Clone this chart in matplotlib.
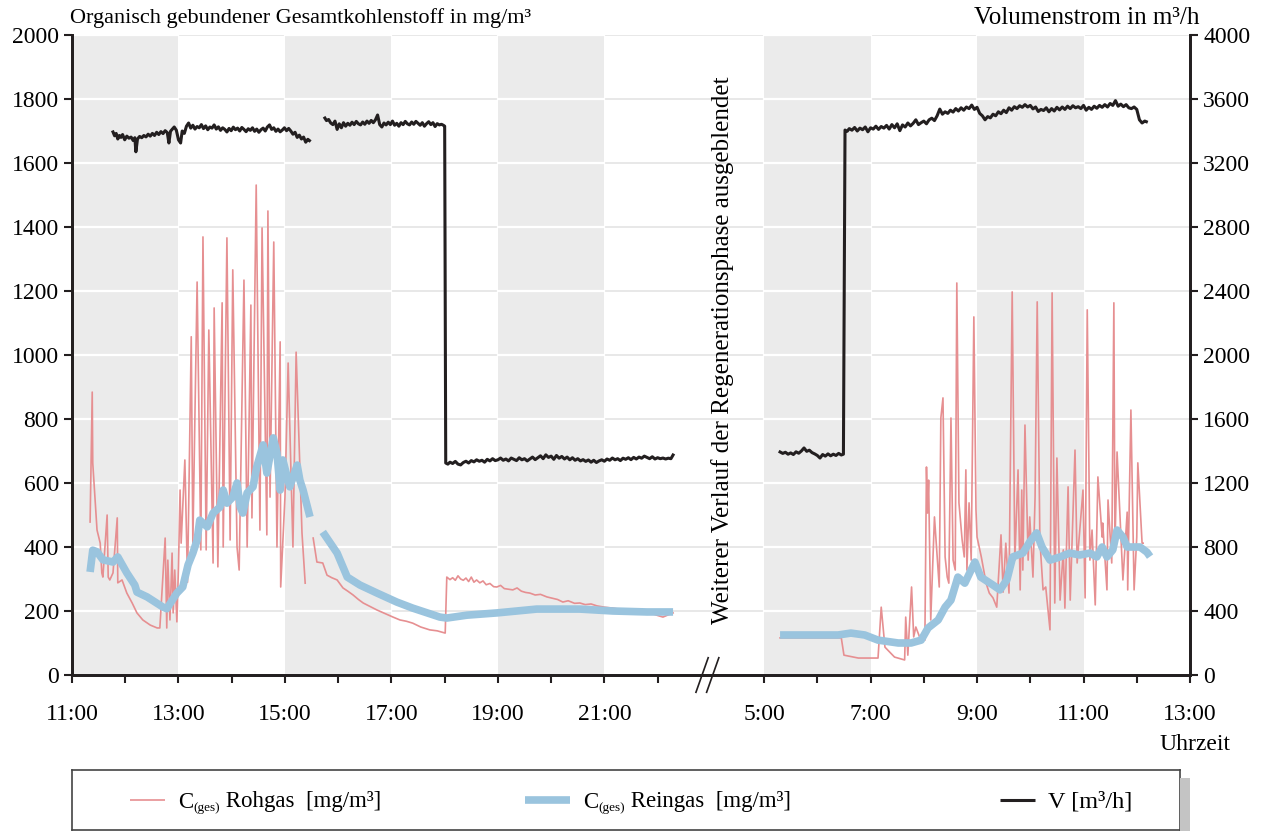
import numpy as np
import matplotlib.pyplot as plt
from matplotlib.lines import Line2D
from matplotlib.patches import Rectangle

plt.rcParams['font.family'] = ['Liberation Serif', 'DejaVu Serif']
plt.rcParams['font.size'] = 17

# Zeitachse: linker Teil in Uhrzeit (h), rechter Teil = Folgetag (Uhrzeit + OFFSET)
OFFSET = 19

# C(ges) Rohgas [mg/m3]
roh_t1 = [11.34, 11.38, 11.39, 11.47, 11.53, 11.56, 11.58, 11.66, 11.68, 11.71, 11.77, 11.85, 11.86,
          11.94, 12.03, 12.13, 12.22, 12.33, 12.47, 12.60, 12.65, 12.75, 12.78, 12.80, 12.84, 12.88,
          12.90, 12.93, 12.97, 13.00, 13.03, 13.05, 13.12, 13.17, 13.24, 13.27, 13.35, 13.42, 13.46,
          13.52, 13.57, 13.65, 13.67, 13.74, 13.82, 13.84, 13.91, 13.97, 14.02, 14.10, 14.14, 14.23,
          14.29, 14.36, 14.38, 14.46, 14.53, 14.57, 14.66, 14.68, 14.72, 14.79, 14.85, 14.91, 14.92,
          15.00, 15.06, 15.15, 15.21, 15.32, 15.38]
roh_v1 = [478, 884, 662, 453, 412, 319, 306, 500, 306, 297, 319, 491, 288,
          297, 256, 225, 194, 172, 156, 147, 147, 428, 147, 359, 172, 381,
          194, 328, 166, 338, 578, 412, 672, 290, 1057, 412, 1228, 391, 1369,
          391, 1078, 350, 1147, 338, 1163, 400, 1366, 422, 1266, 400, 328, 1234,
          400, 1156, 491, 1531, 453, 1397, 438, 1450, 556, 1353, 400, 1041, 275,
          556, 975, 400, 1009, 444, 287]
roh_t2 = [15.53, 15.60, 15.71, 15.79, 15.88, 15.98, 16.09, 16.18, 16.28, 16.38, 16.47, 16.60, 16.73,
          16.88, 17.03, 17.16, 17.28, 17.40, 17.55, 17.72, 17.86, 18.01,
          18.04, 18.10, 18.15, 18.20, 18.25, 18.30, 18.35, 18.40, 18.45, 18.50,
          18.55, 18.60, 18.66, 18.72, 18.78, 18.85, 18.92, 18.98, 19.05, 19.12,
          19.20, 19.28, 19.36, 19.44, 19.52, 19.60, 19.70, 19.80, 19.92, 20.02,
          20.12, 20.22, 20.32, 20.44, 20.54, 20.64, 20.75, 20.86, 21.00, 21.16,
          21.30, 21.42, 21.54, 21.70, 21.80, 21.91, 22.00, 22.10, 22.20, 22.29]
roh_v2 = [428, 353, 350, 312, 304, 297, 272, 262, 250, 236, 225, 214, 203,
          192, 181, 172, 168, 162, 150, 141, 138, 131,
          306, 298, 304, 296, 310, 300, 296, 303, 292, 306,
          290, 297, 288, 294, 282, 286, 276, 275, 280, 270,
          268, 266, 272, 262, 258, 256, 250, 252, 244, 240,
          236, 228, 232, 224, 225, 220, 222, 216, 212, 209,
          205, 198, 194, 196, 190, 191, 186, 181, 188, 194]
roh_t3 = [5.30, 6.45, 6.50, 6.77, 7.14, 7.20, 7.27, 7.45, 7.64, 7.66, 7.70, 7.77, 7.81, 7.85, 7.92,
          8.02, 8.05, 8.07, 8.09, 8.13, 8.20, 8.29, 8.32, 8.36, 8.40, 8.44, 8.47, 8.51, 8.55, 8.59,
          8.62, 8.66, 8.72, 8.76, 8.79, 8.81, 8.85, 8.89, 8.94, 8.98, 9.00, 9.08, 9.17, 9.23, 9.30,
          9.37, 9.45, 9.49, 9.54, 9.60, 9.66, 9.71, 9.77, 9.81, 9.84, 9.86, 9.90, 9.96, 9.99, 10.05,
          10.09, 10.13, 10.18, 10.24, 10.29, 10.37, 10.41, 10.46, 10.50, 10.56, 10.62, 10.65, 10.71,
          10.75, 10.84, 10.88, 10.99, 11.03, 11.07, 11.12, 11.16, 11.22, 11.27, 11.35, 11.36, 11.44,
          11.46, 11.53, 11.57, 11.59, 11.63, 11.74, 11.82, 11.83, 11.89, 11.95, 12.00, 12.02, 12.10, 12.12]
roh_v3 = [116, 116, 62, 53, 53, 212, 87, 56, 47, 181, 62, 275, 119, 150, 119,
          109, 650, 506, 609, 172, 494, 275, 803, 866, 369, 306, 287, 803, 359, 328,
          1225, 538, 422, 369, 641, 328, 538, 359, 1119, 516, 431, 369, 287, 256, 241,
          212, 438, 259, 412, 256, 1197, 359, 641, 266, 578, 328, 781, 359, 494, 306,
          556, 1166, 422, 266, 275, 141, 1194, 225, 678, 234, 391, 209, 588,
          234, 703, 350, 578, 241, 1141, 359, 453, 219, 619, 431, 475, 266,
          547, 350, 1163, 400, 697, 297, 509, 266, 828, 266, 431, 663, 412, 412]

# C(ges) Reingas [mg/m3]
rein_t1 = [11.34, 11.39, 11.47, 11.58, 11.77, 11.86, 12.03, 12.18, 12.22, 12.41, 12.71, 12.78, 12.97,
           13.08, 13.18, 13.27, 13.35, 13.40, 13.54, 13.65, 13.78, 13.84, 13.91, 14.02, 14.10, 14.16,
           14.21, 14.29, 14.40, 14.47, 14.59, 14.66, 14.78, 14.85, 14.91, 14.96, 15.09, 15.23, 15.28,
           15.34, 15.47]
rein_v1 = [322, 390, 385, 360, 353, 369, 319, 281, 259, 244, 212, 207, 256,
           275, 344, 381, 422, 484, 463, 506, 525, 578, 537, 556, 600, 525,
           506, 569, 588, 650, 719, 631, 741, 694, 578, 672, 588, 656, 609,
           578, 494]
rein_t2 = [15.71, 15.98, 16.17, 16.41, 16.73, 17.10, 17.40, 17.91, 18.04, 18.42, 18.98, 19.73, 20.54,
           21.16, 21.80, 22.29]
rein_v2 = [447, 381, 306, 281, 256, 228, 209, 181, 178, 187, 194, 206, 206,
           200, 197, 197]
rein_t3 = [5.30, 6.39, 6.63, 6.89, 7.14, 7.52, 7.76, 7.95, 8.08, 8.27, 8.40, 8.51, 8.64, 8.77, 8.96,
           9.07, 9.30, 9.43, 9.56, 9.67, 9.86, 9.99, 10.12, 10.22, 10.37, 10.56, 10.74, 10.93, 11.12,
           11.25, 11.35, 11.44, 11.55, 11.63, 11.74, 11.82, 12.06, 12.19, 12.25]
rein_v3 = [125, 125, 131, 125, 109, 100, 100, 109, 147, 172, 212, 234, 306, 287, 353,
           306, 281, 266, 297, 369, 381, 416, 444, 400, 359, 369, 381, 375, 381,
           369, 400, 369, 391, 453, 431, 400, 400, 384, 370]

# Volumenstrom V [m3/h]
vol_t1 = [11.77, 11.80, 11.83, 11.86, 11.89, 11.92, 11.95, 11.99, 12.03, 12.07,
          12.11, 12.15, 12.18, 12.20, 12.23, 12.27, 12.31, 12.35, 12.39, 12.43,
          12.47, 12.51, 12.55, 12.59, 12.63, 12.67, 12.71, 12.75, 12.79, 12.82,
          12.85, 12.88, 12.92, 12.96, 13.00, 13.04, 13.07, 13.11, 13.15, 13.19,
          13.23, 13.27, 13.31, 13.35, 13.39, 13.43, 13.47, 13.51, 13.55, 13.59,
          13.63, 13.67, 13.71, 13.75, 13.79, 13.83, 13.87, 13.91, 13.95, 13.99,
          14.03, 14.07, 14.11, 14.15, 14.19, 14.23, 14.27, 14.31, 14.35, 14.39,
          14.43, 14.47, 14.51, 14.55, 14.59, 14.63, 14.67, 14.71, 14.75, 14.79,
          14.83, 14.87, 14.91, 14.95, 14.99, 15.03, 15.07, 15.11, 15.15, 15.19,
          15.23, 15.27, 15.31, 15.35, 15.39, 15.43, 15.46]
vol_v1 = [3394, 3370, 3385, 3350, 3372, 3360, 3378, 3345, 3368, 3355,
          3362, 3340, 3358, 3270, 3350, 3366, 3358, 3372, 3363, 3380,
          3368, 3385, 3372, 3392, 3378, 3396, 3384, 3402, 3390, 3325,
          3398, 3410, 3425, 3405, 3345, 3325, 3400, 3385, 3430, 3450,
          3418, 3436, 3412, 3428, 3420, 3440, 3415, 3432, 3408, 3425,
          3418, 3438, 3412, 3426, 3404, 3420, 3410, 3394, 3416, 3402,
          3424, 3408, 3418, 3400, 3422, 3410, 3396, 3414, 3404, 3420,
          3398, 3412, 3392, 3408, 3418, 3400, 3425, 3438, 3410, 3420,
          3398, 3412, 3395, 3406, 3420, 3402, 3416, 3400, 3380, 3392,
          3360, 3374, 3350, 3362, 3330, 3348, 3340]
vol_t2 = [15.75, 15.78, 15.82, 15.86, 15.90, 15.94, 15.98, 16.02, 16.06, 16.10,
          16.14, 16.18, 16.22, 16.26, 16.30, 16.34, 16.38, 16.42, 16.46, 16.50,
          16.54, 16.58, 16.62, 16.66, 16.70, 16.74, 16.78, 16.82, 16.86, 16.90,
          16.94, 16.98, 17.02, 17.06, 17.10, 17.14, 17.18, 17.22, 17.26, 17.30,
          17.34, 17.38, 17.42, 17.46, 17.50, 17.54, 17.58, 17.62, 17.66, 17.70,
          17.74, 17.78, 17.82, 17.86, 17.90, 17.94, 17.98, 18.00, 18.02, 18.06,
          18.10, 18.15, 18.20, 18.25, 18.30, 18.35, 18.40, 18.45, 18.50, 18.55,
          18.60, 18.65, 18.70, 18.75, 18.80, 18.85, 18.90, 18.95, 19.00, 19.05,
          19.10, 19.15, 19.20, 19.25, 19.30, 19.35, 19.40, 19.45, 19.50, 19.55,
          19.60, 19.65, 19.70, 19.75, 19.80, 19.85, 19.90, 19.95, 20.00, 20.05,
          20.10, 20.15, 20.20, 20.25, 20.30, 20.35, 20.40, 20.45, 20.50, 20.55,
          20.60, 20.65, 20.70, 20.75, 20.80, 20.85, 20.90, 20.95, 21.00, 21.05,
          21.10, 21.15, 21.20, 21.25, 21.30, 21.35, 21.40, 21.45, 21.50, 21.55,
          21.60, 21.65, 21.70, 21.75, 21.80, 21.85, 21.90, 21.95, 22.00, 22.05,
          22.10, 22.15, 22.20, 22.25, 22.29]
vol_v2 = [3481, 3465, 3472, 3450, 3440, 3462, 3410, 3445, 3420, 3452,
          3430, 3448, 3436, 3455, 3440, 3460, 3445, 3438, 3456, 3442,
          3462, 3448, 3466, 3452, 3470, 3500, 3440, 3425, 3450, 3438,
          3455, 3440, 3462, 3436, 3448, 3430, 3452, 3440, 3460, 3445,
          3438, 3456, 3442, 3460, 3448, 3436, 3452, 3430, 3446, 3458,
          3440, 3452, 3428, 3446, 3438, 3442, 3435, 3430, 1325, 1318,
          1330, 1322, 1335, 1318, 1313, 1328, 1336, 1325, 1340, 1332,
          1345, 1336, 1342, 1330, 1348, 1338, 1352, 1340, 1345, 1356,
          1342, 1350, 1338, 1356, 1348, 1340, 1358, 1345, 1352, 1338,
          1350, 1362, 1346, 1358, 1370, 1352, 1376, 1360, 1368, 1348,
          1372, 1355, 1366, 1350, 1362, 1345, 1358, 1342, 1352, 1338,
          1346, 1335, 1344, 1330, 1342, 1328, 1338, 1345, 1336, 1350,
          1342, 1356, 1345, 1352, 1340, 1355, 1348, 1358, 1346, 1360,
          1350, 1362, 1355, 1368, 1360, 1352, 1364, 1350, 1358, 1352,
          1356, 1350, 1355, 1352, 1375]
vol_t3 = [5.30, 5.35, 5.40, 5.45, 5.50, 5.55, 5.60, 5.65, 5.70, 5.75,
          5.80, 5.85, 5.90, 5.95, 6.00, 6.05, 6.10, 6.15, 6.20, 6.25,
          6.30, 6.35, 6.40, 6.45, 6.49, 6.52, 6.56, 6.60, 6.65, 6.70,
          6.75, 6.80, 6.85, 6.90, 6.95, 7.00, 7.05, 7.10, 7.15, 7.20,
          7.25, 7.30, 7.35, 7.40, 7.45, 7.50, 7.55, 7.60, 7.65, 7.70,
          7.75, 7.80, 7.85, 7.90, 7.95, 8.00, 8.05, 8.10, 8.15, 8.20,
          8.25, 8.30, 8.35, 8.40, 8.45, 8.50, 8.55, 8.60, 8.65, 8.70,
          8.75, 8.80, 8.85, 8.90, 8.95, 9.00, 9.05, 9.10, 9.15, 9.20,
          9.25, 9.30, 9.35, 9.40, 9.45, 9.50, 9.55, 9.60, 9.65, 9.70,
          9.75, 9.80, 9.85, 9.90, 9.95, 10.00, 10.05, 10.10, 10.15, 10.20,
          10.25, 10.30, 10.35, 10.40, 10.45, 10.50, 10.55, 10.60, 10.65, 10.70,
          10.75, 10.80, 10.85, 10.90, 10.95, 11.00, 11.05, 11.10, 11.15, 11.20,
          11.25, 11.30, 11.35, 11.40, 11.45, 11.50, 11.55, 11.60, 11.65, 11.70,
          11.75, 11.80, 11.85, 11.90, 11.95, 12.00, 12.05, 12.10, 12.15, 12.18]
vol_v3 = [1394, 1385, 1392, 1380, 1388, 1378, 1395, 1386, 1400, 1419,
          1398, 1405, 1390, 1382, 1372, 1356, 1378, 1368, 1382, 1370,
          1380, 1372, 1385, 1375, 1380, 3406, 3398, 3415, 3405, 3422,
          3400, 3418, 3408, 3425, 3395, 3420, 3412, 3430, 3410, 3428,
          3418, 3435, 3412, 3440, 3420, 3445, 3402, 3438, 3425, 3450,
          3432, 3448, 3470, 3440, 3452, 3462, 3445, 3470, 3480, 3465,
          3495, 3537, 3505, 3520, 3510, 3530, 3518, 3540, 3525, 3545,
          3530, 3550, 3540, 3562, 3535, 3548, 3510, 3495, 3470, 3490,
          3482, 3505, 3495, 3520, 3508, 3530, 3515, 3545, 3530, 3552,
          3540, 3558, 3548, 3565, 3550, 3560, 3538, 3550, 3522, 3535,
          3528, 3545, 3520, 3540, 3525, 3548, 3532, 3550, 3535, 3555,
          3540, 3558, 3545, 3552, 3540, 3560, 3530, 3548, 3535, 3555,
          3542, 3560, 3548, 3565, 3550, 3572, 3560, 3590, 3555, 3568,
          3552, 3565, 3545, 3540, 3550, 3535, 3470, 3450, 3462, 3458]

major_ticks = [11, 13, 15, 17, 19, 21, 5 + OFFSET, 7 + OFFSET, 9 + OFFSET, 11 + OFFSET, 13 + OFFSET]
major_labels = ['11:00', '13:00', '15:00', '17:00', '19:00', '21:00', '5:00', '7:00', '9:00', '11:00', '13:00']
minor_ticks = [12, 14, 16, 18, 20, 22, 6 + OFFSET, 8 + OFFSET, 10 + OFFSET, 12 + OFFSET]
gray_bands = [(11, 13), (15, 17), (19, 21), (5 + OFFSET, 7 + OFFSET), (9 + OFFSET, 11 + OFFSET)]

c_roh = '#e68f91'
c_rein = '#9ac4de'
c_vol = '#231f20'
c_axis = '#231f20'

fig = plt.figure(figsize=(12.63, 8.31), dpi=100)
ax = fig.add_axes([72 / 1263, 1 - 675 / 831, 1118 / 1263, 640 / 831])
ax.set_xlim(11, 13 + OFFSET)
ax.set_ylim(0, 2000)

# Hintergrundstreifen und Gitter
yticks = np.arange(0, 2001, 200)
for a, b in gray_bands:
    ax.axvspan(a, b, color='#ebebeb', lw=0, zorder=0)
for y in yticks[1:]:
    ax.axhline(y, color='#e4e4e4', lw=1.2, zorder=0.5)
    for a, b in gray_bands:
        ax.plot([a, b], [y, y], color='white', lw=1.6, zorder=0.6)

# Rohgas / Reingas
for t, v in [(roh_t1, roh_v1), (roh_t2, roh_v2)]:
    ax.plot(t, v, color=c_roh, lw=1.2, zorder=2)
ax.plot(np.array(roh_t3) + OFFSET, roh_v3, color=c_roh, lw=1.2, zorder=2)
for t, v in [(rein_t1, rein_v1), (rein_t2, rein_v2)]:
    ax.plot(t, v, color=c_rein, lw=5.5, zorder=3, solid_capstyle='butt')
ax.plot(np.array(rein_t3) + OFFSET, rein_v3, color=c_rein, lw=5.5, zorder=3, solid_capstyle='butt')

ax.set_yticks(yticks)
ax.set_xticks(major_ticks)
ax.set_xticklabels(major_labels)
ax.set_xticks(minor_ticks, minor=True)
ax.tick_params(axis='both', which='both', direction='out', length=6, width=1.5, color=c_axis, labelsize=17)
ax.tick_params(axis='x', which='major', pad=15)
for s in ['left', 'bottom', 'right']:
    ax.spines[s].set_color(c_axis)
    ax.spines[s].set_linewidth(2)
ax.spines['top'].set_visible(False)

# Volumenstrom auf rechter Achse
ax2 = ax.twinx()
ax2.set_ylim(0, 4000)
ax2.set_yticks(np.arange(0, 4001, 400))
for t, v in [(vol_t1, vol_v1), (vol_t2, vol_v2)]:
    ax2.plot(t, v, color=c_vol, lw=2.2)
ax2.plot(np.array(vol_t3) + OFFSET, vol_v3, color=c_vol, lw=2.2)
ax2.tick_params(axis='y', direction='out', length=6, width=1.5, color=c_axis, labelsize=17)
for s in ['left', 'bottom', 'right']:
    ax2.spines[s].set_color(c_axis)
    ax2.spines[s].set_linewidth(2)
ax2.spines['top'].set_visible(False)

# Achsenbruch
for dx in [0, 0.2]:
    ax.plot([22.72 + dx, 22.95 + dx], [-0.027, 0.027], transform=ax.get_xaxis_transform(),
            color=c_axis, lw=1.2, clip_on=False, zorder=5)
ax.text(23.22, 1016, 'Weiterer Verlauf der Regenerationsphase ausgeblendet', rotation=90,
        ha='center', va='center', fontsize=18, zorder=5)

fig.text(70 / 1263, 1 - 18 / 831, 'Organisch gebundener Gesamtkohlenstoff in mg/m³', ha='left', va='center', fontsize=16)
fig.text(1200 / 1263, 1 - 18 / 831, 'Volumenstrom in m³/h', ha='right', va='center', fontsize=18)
fig.text(1230 / 1263, 1 - 745 / 831, 'Uhrzeit', ha='right', va='center', fontsize=17)

# Legende
fig.patches.append(Rectangle((1180 / 1263, 0), 10 / 1263, 53 / 831, transform=fig.transFigure,
                             facecolor='#c4c4c4', edgecolor='none'))
lax = fig.add_axes([72 / 1263, 1 / 831, 1108 / 1263, 60 / 831])
lax.set_xlim(0, 1108)
lax.set_ylim(0, 60)
lax.set_xticks([])
lax.set_yticks([])
for s in lax.spines.values():
    s.set_color('#444444')
    s.set_linewidth(1.2)

renderer = fig.canvas.get_renderer()


def chain_text(x, parts):
    # Textteile nebeneinander setzen (Index klein und tiefgestellt)
    for txt, size, dy in parts:
        t = lax.text(x, 28 + dy, txt, ha='left', va='center', fontsize=size)
        bb = t.get_window_extent(renderer=renderer)
        x += bb.width


leg_items = [(c_roh, 1.2, 58, 35, [('C', 16.5, 0), ('(ges)', 9.5, -6), (' Rohgas  [mg/m³]', 16.5, 0)]),
             (c_rein, 5.5, 453, 45, [('C', 16.5, 0), ('(ges)', 9.5, -6), (' Reingas  [mg/m³]', 16.5, 0)]),
             (c_vol, 2.2, 928, 35, [('V [m³/h]', 17.5, 0)])]
for col, lw, x0, hl, parts in leg_items:
    lax.add_line(Line2D([x0, x0 + hl], [30, 30], color=col, lw=lw, solid_capstyle='butt'))
    chain_text(x0 + hl + 13, parts)

fig.savefig('out.png', dpi=100)
